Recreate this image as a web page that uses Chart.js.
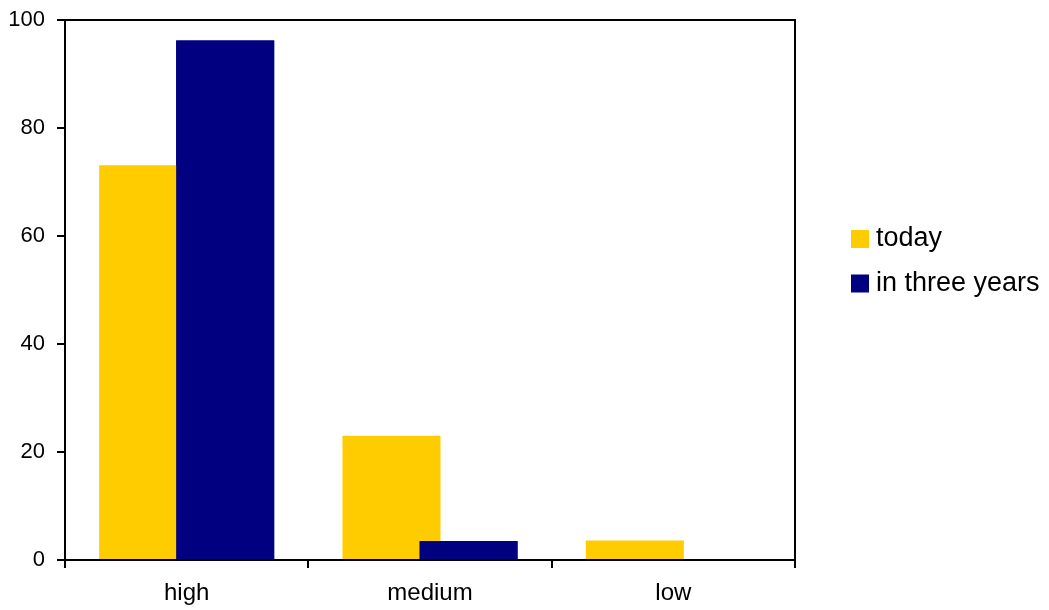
<!DOCTYPE html>
<html>
<head>
<meta charset="utf-8">
<script src="https://cdn.jsdelivr.net/npm/chart.js@4/dist/chart.umd.min.js"></script>
<style>
  html, body { margin: 0; padding: 0; background: #ffffff; }
  #wrap { width: 1049px; height: 610px; position: relative; }
</style>
</head>
<body>
<div id="wrap"><canvas id="c"></canvas></div>
<script>
const categories = ['high', 'medium', 'low'];
const seriesNames = ['today', 'in three years'];
const todayValues = [73.1, 23, 3.6];
const threeYearsValues = [96.2, 3.5, 0];
const yTicks = [0, 20, 40, 60, 80, 100];

const yellow = '#FFCC00';
const navy = '#000080';
const FONT = 'Liberation Sans, Arial, sans-serif';

// Frame (top and right lines), second series drawn on top, and the side legend
const framePlugin = {
  id: 'frame',
  afterDatasetsDraw(chart) {
    const meta = chart.getDatasetMeta(1);
    if (meta && meta.controller) meta.controller.draw();
    const a = chart.chartArea;
    const ctx = chart.ctx;
    ctx.save();
    ctx.strokeStyle = '#000000';
    ctx.lineWidth = 2;
    ctx.beginPath();
    ctx.moveTo(a.left, a.top);
    ctx.lineTo(a.right, a.top);
    ctx.lineTo(a.right, a.bottom);
    ctx.stroke();
    ctx.restore();
  },
  afterDraw(chart, args, opts) {
    const ctx = chart.ctx;
    ctx.save();
    ctx.font = opts.fontSize + 'px ' + FONT;
    ctx.textBaseline = 'middle';
    ctx.textAlign = 'left';
    chart.data.datasets.forEach((ds, i) => {
      const cy = opts.firstY + i * opts.step;
      ctx.fillStyle = ds.backgroundColor;
      ctx.fillRect(opts.x, cy - opts.box / 2, opts.box, opts.box);
      ctx.fillStyle = '#000000';
      ctx.fillText(ds.label, opts.x + opts.box + opts.gap, cy);
    });
    ctx.restore();
  }
};

new Chart(document.getElementById('c'), {
  type: 'bar',
  data: {
    labels: categories,
    datasets: [
      { label: seriesNames[0], data: todayValues, backgroundColor: yellow, borderWidth: 0,
        categoryPercentage: 0.633, barPercentage: 1.273 },
      { label: seriesNames[1], data: threeYearsValues, backgroundColor: navy, borderWidth: 0,
        categoryPercentage: 0.633, barPercentage: 1.273 }
    ]
  },
  options: {
    responsive: true,
    maintainAspectRatio: false,
    animation: false,
    layout: { padding: { top: 20, left: 0, right: 254, bottom: 0 } },
    plugins: {
      tooltip: { enabled: false },
      legend: { display: false },
      frame: { x: 851, firstY: 239, step: 44.5, box: 18, gap: 7, fontSize: 27 }
    },
    scales: {
      x: {
        offset: true,
        afterFit(scale) { scale.height = 50; },
        grid: { display: true, offset: true, drawOnChartArea: false, drawTicks: true,
                tickLength: 8, color: '#000000', lineWidth: 2 },
        border: { display: true, color: '#000000', width: 2 },
        ticks: { color: '#000000', padding: 11, maxRotation: 0,
                 font: { family: FONT, size: 24 } }
      },
      y: {
        min: 0,
        max: 100,
        afterFit(scale) { scale.width = 65; scale.paddingTop = 0; scale.paddingBottom = 0; },
        afterBuildTicks(scale) { scale.ticks = yTicks.map(v => ({ value: v })); },
        grid: { display: true, drawOnChartArea: false, drawTicks: true,
                tickLength: 8, color: '#000000', lineWidth: 2 },
        border: { display: true, color: '#000000', width: 2 },
        ticks: { color: '#000000', padding: 12,
                 font: { family: FONT, size: 22 } }
      }
    }
  },
  plugins: [framePlugin]
});
</script>
</body>
</html>
